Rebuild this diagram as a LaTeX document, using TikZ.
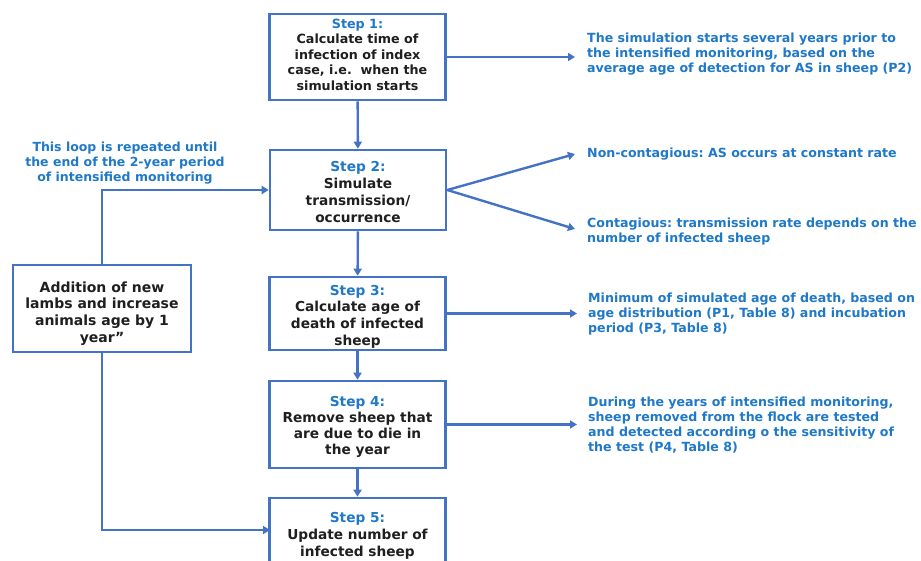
\documentclass[tikz,border=0pt]{standalone}
\usepackage{fontspec}
\setmainfont{DejaVu Sans}
\usetikzlibrary{arrows.meta}
\definecolor{boxblue}{HTML}{4472C4}
\definecolor{txtblue}{HTML}{1F78C8}
\frenchspacing
\newcommand{\lowerby}[1]{\rule{0pt}{\dimexpr 10.5pt+#1\relax}}
\begin{document}
\begin{tikzpicture}[x=1pt,y=-1pt,
  stepbox/.style={draw=boxblue, line width=2.6pt, fill=white, minimum width=176pt, align=center, font=\fontsize{13.7}{16.8}\selectfont\bfseries, text=black!88, inner sep=0pt},
  note/.style={align=left, anchor=west, text=txtblue, font=\fontsize{12.6}{15}\selectfont\bfseries, inner sep=0pt},
  arr/.style={draw=boxblue, line width=2.4pt, -{Triangle[width=8pt,length=7pt]}}]
\useasboundingbox (0,0) rectangle (921,560);
\clip (0,0) rectangle (921,560);
\node[stepbox, minimum height=86pt, font=\fontsize{12.7}{15.6}\selectfont\bfseries] (s1) at (357.5,57) {\textcolor{txtblue}{Step 1:}\\Calculate time of\\infection of index\\case, i.e.\ \ when the\\simulation starts\rule[-5pt]{0pt}{1pt}};
\node[stepbox, minimum height=80pt] (s2) at (358,190) {\lowerby{4pt}\textcolor{txtblue}{Step 2:}\\Simulate\\transmission/\\occurrence};
\node[stepbox, minimum height=73pt] (s3) at (357.5,313.5) {\lowerby{6pt}\textcolor{txtblue}{Step 3:}\\Calculate age of\\death of infected\\sheep};
\node[stepbox, minimum height=87pt, font=\fontsize{13.7}{16}\selectfont\bfseries] (s4) at (357.5,424.5) {\lowerby{4pt}\textcolor{txtblue}{Step 4:}\\Remove sheep that\\are due to die in\\the year};
\node[stepbox, minimum height=76pt] (s5) at (357.5,536) {\textcolor{txtblue}{Step 5:}\\Update number of\\infected sheep};
\node[stepbox, minimum width=178pt, minimum height=87pt, font=\fontsize{14}{16.6}\selectfont\bfseries] (lb) at (102,308.5) {\lowerby{10pt}Addition of new\\lambs and increase\\animals age by 1\\year''};
\node[align=center, text=txtblue, font=\fontsize{12.5}{15}\selectfont\bfseries, inner sep=0pt] (loop) at (125,163) {This loop is repeated until\\the end of the 2-year period\\of intensified monitoring};
\node[note] (n1) at (587,54) {The simulation starts several years prior to\\the intensified monitoring, based on the\\average age of detection for AS in sheep (P2)};
\node[note] (n2a) at (587,154) {Non-contagious: AS occurs at constant rate};
\node[note] (n2b) at (587,231.5) {Contagious: transmission rate depends on the\\number of infected sheep};
\node[note] (n3) at (588,314) {Minimum of simulated age of death, based on\\age distribution (P1, Table 8) and incubation\\period (P3, Table 8)};
\node[note] (n4) at (588,425.5) {During the years of intensified monitoring,\\sheep removed from the flock are tested\\and detected according o the sensitivity of\\the test (P4, Table 8)};
\coordinate (e1) at (575,57);
\coordinate (e2a) at (575,154);
\coordinate (e2b) at (575,229);
\coordinate (e3) at (577,313.5);
\coordinate (e4) at (577,424.5);
\coordinate (s5in) at (270,530);
\draw[arr] (s1) -- (s2);
\draw[arr] (s2) -- (s3);
\draw[arr] (s3) -- (s4);
\draw[arr] (s4) -- (s5);
\draw[arr] (s1.east) -- (e1);
\draw[arr] (s2.east) -- (e2a);
\draw[arr] (s2.east) -- (e2b);
\draw[arr] (s3.east) -- (e3);
\draw[arr] (s4.east) -- (e4);
\draw[arr] (lb.north) |- (s2.west);
\draw[arr] (lb.south) |- (s5in);
\end{tikzpicture}
\end{document}
